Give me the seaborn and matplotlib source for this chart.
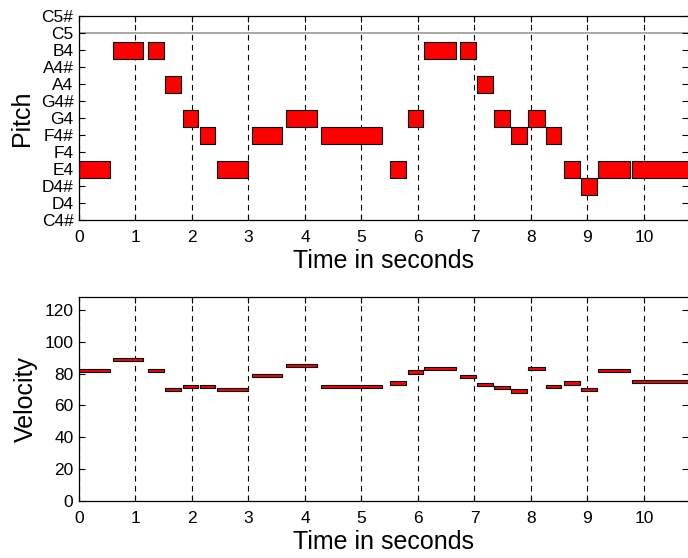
import numpy as np
import pandas as pd
import matplotlib
matplotlib.use("Agg")
import matplotlib.pyplot as plt
import seaborn as sns

# note list (onset, offset in seconds, midi pitch, velocity)
onsets = [0.00, 0.60, 1.23, 1.53, 1.84, 2.14, 2.44, 3.07, 3.67, 4.28, 5.51, 5.82,
          6.11, 6.75, 7.05, 7.35, 7.65, 7.95, 8.26, 8.59, 8.89, 9.19, 9.79]
offsets = [0.54, 1.14, 1.50, 1.81, 2.11, 2.41, 2.99, 3.60, 4.22, 5.36, 5.78, 6.09,
           6.67, 7.03, 7.33, 7.63, 7.93, 8.24, 8.54, 8.87, 9.17, 9.75, 11.00]
pitches = [64, 71, 71, 69, 67, 66, 64, 66, 67, 66, 64, 67,
           71, 71, 69, 67, 66, 67, 66, 64, 63, 64, 64]
velocities = [82, 89, 82, 70, 72, 72, 70, 79, 85, 72, 74, 81,
              83, 78, 73, 71, 69, 83, 72, 74, 70, 82, 75]

pitch_ticks = list(range(61, 74))
pitch_labels = ["C4#", "D4", "D4#", "E4", "F4", "F4#", "G4", "G4#",
                "A4", "A4#", "B4", "C5", "C5#"]
time_ticks = list(range(0, 11))
vel_ticks = list(range(0, 121, 20))

notes = pd.DataFrame({"onset": onsets, "offset": offsets,
                      "pitch": pitches, "velocity": velocities})
notes["dur"] = notes["offset"] - notes["onset"]

sns.set_style("ticks")
plt.rcParams["font.family"] = ["Liberation Sans", "DejaVu Sans"]
plt.rcParams["xtick.direction"] = "in"
plt.rcParams["ytick.direction"] = "in"
plt.rcParams["text.color"] = "black"
plt.rcParams["axes.labelcolor"] = "black"
plt.rcParams["xtick.labelcolor"] = "black"
plt.rcParams["ytick.labelcolor"] = "black"

fig = plt.figure(figsize=(6.88, 5.58), dpi=100)
ax1 = fig.add_axes([79 / 688, 1 - 220 / 558, 609 / 688, 204 / 558])
ax2 = fig.add_axes([79 / 688, 1 - 501 / 558, 609 / 688, 204 / 558])

tmax = 10.78

for ax in (ax1, ax2):
    for t in time_ticks:
        ax.axvline(t, color="black", lw=0.8, ls=(0, (5, 4)), zorder=0)
    ax.set_xlim(0, tmax)
    ax.set_xticks(time_ticks)
    ax.set_xlabel("Time in seconds", fontsize=18, labelpad=3)
    ax.tick_params(axis="both", labelsize=12.5, length=4, width=0.8,
                   color="black", top=True, right=True, pad=4)
    ax.tick_params(axis="x", pad=7)
    for side in ("left", "bottom", "top"):
        ax.spines[side].set_linewidth(0.9)
        ax.spines[side].set_color("black")
    ax.spines["right"].set_visible(False)

# pitch panel
ax1.axhline(72, color="#999999", lw=1.2, zorder=0.5)
ax1.barh(notes["pitch"], notes["dur"], left=notes["onset"], height=1.0,
         color="#ff0000", edgecolor="black", linewidth=0.8, zorder=2)
ax1.set_ylim(61, 73)
ax1.set_yticks(pitch_ticks)
ax1.set_yticklabels(pitch_labels)
ax1.set_ylabel("Pitch", fontsize=18, labelpad=5)

# velocity panel
ax2.barh(notes["velocity"], notes["dur"], left=notes["onset"], height=2.0,
         color="#ff0000", edgecolor="black", linewidth=0.8, zorder=2)
ax2.set_ylim(0, 128)
ax2.set_yticks(vel_ticks)
ax2.set_ylabel("Velocity", fontsize=18, labelpad=5)

fig.savefig("out.png", dpi=100)
